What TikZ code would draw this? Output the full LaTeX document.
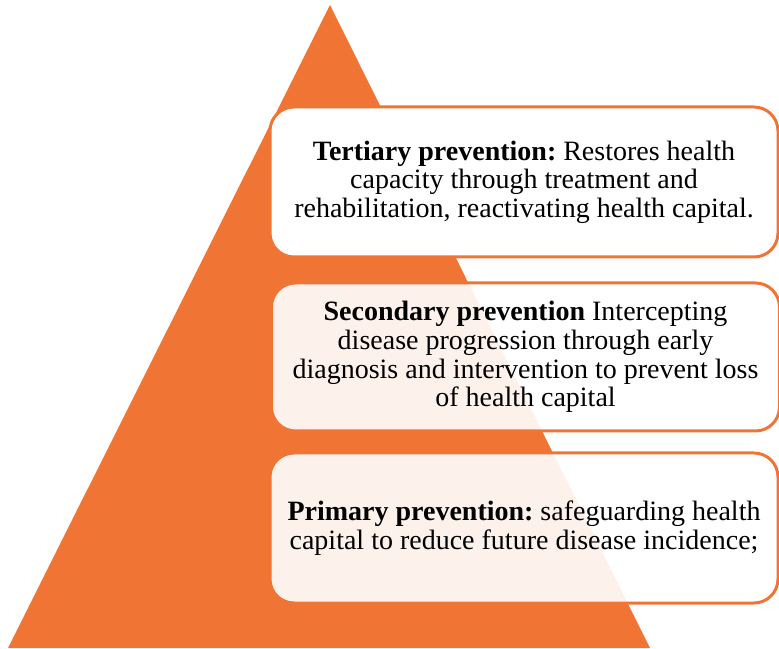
\documentclass[tikz,border=0pt]{standalone}
\usepackage{fontspec}
\setmainfont{Liberation Serif}
\frenchspacing
\definecolor{pyrorange}{RGB}{240,117,53}
\tikzset{
  pyramid/.style={fill=pyrorange, draw=none},
  levelbox/.style={draw=pyrorange, line width=3pt, rounded corners=24pt,
    minimum width=508pt, align=center, inner sep=0pt,
    font=\fontsize{28}{28.6}\selectfont},
  solidbox/.style={levelbox, fill=white},
  softbox/.style={levelbox, fill=white, fill opacity=0.9, text opacity=1},
}
\begin{document}
\begin{tikzpicture}[x=1pt,y=1pt]
\useasboundingbox (0,0) rectangle (779,648);
% the prevention pyramid
\coordinate (baseL) at (8,0);
\coordinate (apex) at (330,643);
\coordinate (baseR) at (650,0);
\fill[pyramid] (baseL) -- (apex) -- (baseR) -- cycle;
% the three levels
\node[solidbox, minimum height=150pt] (tertiary) at (524,466)
  {\textbf{Tertiary prevention:} Restores health\\
   capacity through treatment and\\
   rehabilitation, reactivating health capital.};
\node[softbox, minimum height=148pt] (secondary) at (525.5,291)
  {\textbf{Secondary prevention} Intercepting\\
   disease progression through early\\
   diagnosis and intervention to prevent loss\\
   of health capital};
\node[softbox, minimum height=150pt] (primary) at (524,120)
  {\textbf{Primary prevention:} safeguarding health\\
   capital to reduce future disease incidence;};
\end{tikzpicture}
\end{document}
